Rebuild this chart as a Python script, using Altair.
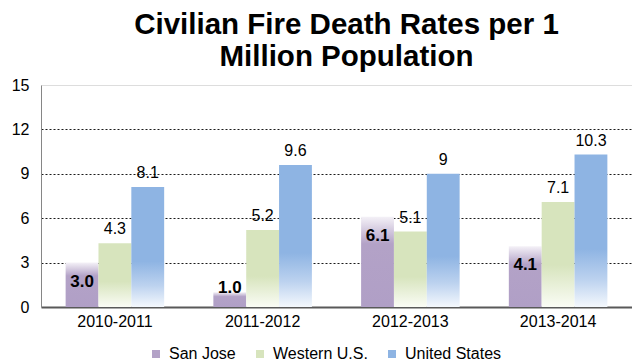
import altair as alt
import pandas as pd

# Civilian fire death rates per 1 million population
periods = ["2010-2011", "2011-2012", "2012-2013", "2013-2014"]
series = ["San Jose", "Western U.S.", "United States"]
san_jose = [3.0, 1.0, 6.1, 4.1]
western_us = [4.3, 5.2, 5.1, 7.1]
united_states = [8.1, 9.6, 9.0, 10.3]
y_ticks = [0, 3, 6, 9, 12, 15]

base_colors = ["#B3A2C7", "#D7E4BD", "#8EB4E3"]

rows = []
for name, vals in zip(series, [san_jose, western_us, united_states]):
    for p, v in zip(periods, vals):
        rows.append({"period": p, "series": name, "value": v})
df = pd.DataFrame(rows)

FONT = "Liberation Sans"

x_enc = alt.X(
    "period:N",
    sort=periods,
    title=None,
    scale=alt.Scale(paddingInner=0.333, paddingOuter=0.1667),
    axis=alt.Axis(
        labelAngle=0,
        labelFontSize=16,
        labelColor="#000000",
        labelFont=FONT,
        labelPadding=6,
        ticks=False,
        domainColor="#595959",
        domainWidth=2,
    ),
)
xoff_enc = alt.XOffset("series:N", sort=series, scale=alt.Scale(domain=series))
y_scale = alt.Scale(domain=[0, 15])
y_axis = alt.Axis(
    values=y_ticks,
    ticks=False,
    labelFontSize=16,
    labelColor="#000000",
    labelFont=FONT,
    labelPadding=12,
    domainColor="#868686",
    domainWidth=1,
    gridColor={
        "condition": {"test": "datum.value === 0 || datum.value === 15", "value": "transparent"},
        "value": "#1a1a1a",
    },
    gridDash=[2, 2],
    gridWidth=1,
)
y_enc = alt.Y("value:Q", scale=y_scale, title=None, axis=y_axis)

# Zero-height bars that only carry the colour legend
legend_layer = alt.Chart(df).mark_bar().encode(
    x=x_enc,
    xOffset=xoff_enc,
    y=alt.Y("zero:Q", scale=y_scale, axis=y_axis, title=None),
    color=alt.Color(
        "series:N",
        sort=series,
        scale=alt.Scale(domain=series, range=base_colors),
        legend=alt.Legend(
            title=None,
            orient="none",
            direction="horizontal",
            legendX=107,
            legendY=261,
            symbolType="square",
            symbolSize=64,
            symbolStrokeWidth=0,
            labelFontSize=16,
            labelFont=FONT,
            labelColor="#000000",
            columnPadding=16,
            labelOffset=5,
        ),
    ),
).transform_calculate(zero="0")


def grad(stops):
    return alt.LinearGradient(
        gradient="linear",
        x1=0, x2=0, y1=0, y2=1,
        stops=[alt.GradientStop(color=c, offset=o) for o, c in stops],
    )


gradients = {
    "San Jose": grad([(0, "#F4F1F7"), (0.3, "#B3A2C7"), (1, "#B09FC6")]),
    "Western U.S.": grad([(0, "#D7E4BD"), (0.6, "#D7E4BD"), (1, "#FAFCF5")]),
    "United States": grad([(0, "#8EB4E3"), (0.62, "#8EB4E3"), (0.82, "#BCD2EF"), (1, "#F4F8FD")]),
}

bar_layers = [
    alt.Chart(df)
    .transform_filter(alt.datum.series == name)
    .mark_bar(fill=gradients[name], strokeWidth=0)
    .encode(x=x_enc, xOffset=xoff_enc, y=y_enc)
    for name in series
]

# Values above the comparison bars
outer_labels = (
    alt.Chart(df)
    .transform_filter(alt.datum.series != "San Jose")
    .mark_text(fontSize=16, font=FONT, color="#000000", baseline="alphabetic", dy=-9)
    .encode(x=x_enc, xOffset=xoff_enc, y=y_enc, text=alt.Text("value:Q", format="~g"))
)

# Bold values inside the top of the San Jose bars
inner_labels = (
    alt.Chart(df)
    .transform_filter(alt.datum.series == "San Jose")
    .transform_calculate(label_y="max(datum.value, 2.6)")
    .mark_text(fontSize=17, font=FONT, fontWeight="bold", color="#000000", baseline="alphabetic", dy=24)
    .encode(
        x=x_enc,
        xOffset=xoff_enc,
        y=alt.Y("label_y:Q", scale=y_scale, title=None, axis=y_axis),
        text=alt.Text("value:Q", format=".1f"),
    )
)

chart = (
    alt.layer(legend_layer, *bar_layers, outer_labels, inner_labels)
    .properties(
        width=591,
        height=222,
        autosize=alt.AutoSizeParams(type="none"),
        padding={"left": 41, "top": 85, "right": 0, "bottom": 57},
        title=alt.TitleParams(
            ["Civilian Fire Death Rates per 1", "Million Population"],
            font=FONT,
            fontSize=29.5,
            fontWeight="bold",
            color="#000000",
            lineHeight=32,
            anchor="middle",
            dx=10,
            offset=5,
        ),
    )
    .configure_view(stroke="#868686", strokeWidth=1)
    .configure(background="white")
)

chart.save("out.html", embed_options={"renderer": "svg", "actions": False})
